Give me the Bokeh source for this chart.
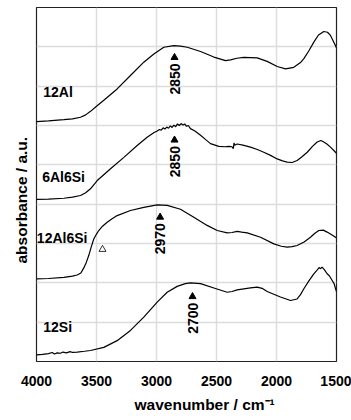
import math
from bokeh.plotting import figure
from bokeh.models import Range1d, FixedTicker, Title
from bokeh.core.properties import value
from bokeh.embed import file_html
from bokeh.resources import INLINE

# ---------------- data ----------------
wn_12al = [4000, 3900, 3772, 3700, 3633, 3590, 3550, 3500, 3439, 3328, 3217, 3106, 3022, 2939, 2856,
           2800, 2744, 2633, 2522, 2425, 2383, 2330, 2272, 2161, 2078, 1994, 1925, 1856, 1800, 1772,
           1730, 1689, 1650, 1606, 1575, 1550, 1508, 1500]
ab_12al = [6.10, 6.12, 6.15, 6.17, 6.21, 6.27, 6.36, 6.49, 6.64, 6.93, 7.27, 7.61, 7.82, 7.99, 8.03,
           8.02, 7.99, 7.88, 7.74, 7.65, 7.67, 7.71, 7.73, 7.72, 7.63, 7.50, 7.44, 7.48, 7.60, 7.70,
           7.90, 8.12, 8.30, 8.39, 8.37, 8.29, 8.03, 7.97]

wn_6al6si = [4000, 3900, 3772, 3700, 3633, 3590, 3550, 3494, 3383, 3272, 3161, 3078, 3020, 2994, 2975,
             2960, 2945, 2930, 2915, 2900, 2885, 2870, 2855, 2840, 2825, 2810, 2795, 2780, 2765, 2750,
             2735, 2717, 2680, 2633, 2590,
             2550, 2481, 2430, 2397, 2370, 2360, 2354, 2348, 2328, 2280, 2217, 2160, 2106, 2050, 1994,
             1950, 1911, 1870, 1828, 1790, 1744, 1700, 1661, 1630, 1606, 1580, 1550, 1508, 1500]
ab_6al6si = [4.12, 4.13, 4.15, 4.18, 4.22, 4.29, 4.39, 4.60, 4.90, 5.19, 5.49, 5.70, 5.82, 5.86, 5.90,
             5.88, 5.94, 5.91, 5.96, 5.93, 5.99, 5.95, 6.01, 5.97, 6.04, 6.00, 6.05, 6.01, 6.04, 5.98,
             6.00, 5.92, 5.86, 5.75, 5.64,
             5.54, 5.47, 5.46, 5.47, 5.46, 5.41, 5.56, 5.50, 5.53, 5.50, 5.45, 5.39, 5.32, 5.24, 5.15,
             5.10, 5.07, 5.06, 5.11, 5.20, 5.32, 5.47, 5.58, 5.62, 5.58, 5.53, 5.45, 5.32, 5.29]

wn_12al6si = [4000, 3900, 3772, 3700, 3661, 3630, 3606, 3585, 3564, 3543, 3522, 3500, 3481, 3450, 3411,
              3370, 3328, 3217, 3106, 2994, 2911, 2800, 2689, 2578, 2494, 2411, 2370, 2328, 2290, 2244,
              2133, 2022, 1960, 1911, 1870, 1828, 1770, 1717, 1680, 1647, 1610, 1578, 1540, 1508, 1500]
ab_12al6si = [2.10, 2.11, 2.14, 2.17, 2.20, 2.25, 2.38, 2.52, 2.70, 2.92, 3.12, 3.24, 3.33, 3.44, 3.54,
              3.63, 3.71, 3.84, 3.92, 3.98, 3.97, 3.87, 3.67, 3.46, 3.33, 3.27, 3.28, 3.31, 3.29, 3.27,
              3.16, 2.99, 2.93, 2.91, 2.92, 2.95, 3.04, 3.16, 3.26, 3.33, 3.34, 3.29, 3.22, 3.16, 3.14]

wn_12si = [4000, 3950, 3900, 3870, 3850, 3828, 3800, 3780, 3750, 3720, 3700, 3661, 3600, 3550, 3439,
           3328, 3217, 3106, 2994, 2911, 2828, 2760, 2717, 2633, 2522, 2411, 2370, 2328, 2217, 2161,
           2120, 2078, 1967, 1883, 1828, 1800, 1772, 1730, 1689, 1660, 1645, 1633, 1620, 1600, 1578,
           1560, 1536, 1520, 1508, 1500]
ab_12si = [0.17, 0.18, 0.20, 0.23, 0.19, 0.22, 0.21, 0.24, 0.22, 0.25, 0.23, 0.24, 0.26, 0.28, 0.36,
           0.53, 0.79, 1.13, 1.51, 1.76, 1.91, 1.98, 2.00, 1.98, 1.87, 1.76, 1.78, 1.82, 1.87, 1.89,
           1.86, 1.78, 1.64, 1.55, 1.59, 1.70, 1.85, 2.05, 2.23, 2.33, 2.39, 2.36, 2.40, 2.33, 2.23,
           2.18, 2.06, 1.98, 1.85, 1.78]

series_names = ["12Al", "6Al6Si", "12Al6Si", "12Si"]
peak_wn = [2850, 2850, 2970, 2700]
peak_text = ["2850", "2850", "2970", "2700"]
open_mark_wn = [3450]

x_ticks = [4000, 3500, 3000, 2500, 2000, 1500]
y_grid = [1, 2, 3, 4, 5, 6, 7, 8]

# ---------------- layout / style ----------------
FONT = value("Liberation Sans")
label_pos = [(3944, 6.85), (3953, 4.69), (3997, 3.13), (3944, 0.87)]
peak_level = [7.73, 5.63, 3.67, 1.65]
open_mark_level = [2.85]

p = figure(frame_width=300, frame_height=354, min_border_left=36, min_border_right=15,
           min_border_top=7, min_border_bottom=59, output_backend="svg",
           toolbar_location=None, title=None, y_axis_location=None,
           x_range=Range1d(4000, 1500), y_range=Range1d(0, 9))

p.outline_line_color = "#222222"
p.outline_line_width = 1.2
p.background_fill_color = "white"
p.border_fill_color = "white"

p.xgrid.ticker = FixedTicker(ticks=x_ticks)
p.ygrid.ticker = FixedTicker(ticks=y_grid)
for g in (p.xgrid, p.ygrid):
    g.grid_line_color = "#dcdcdc"
    g.grid_line_width = 1.5

ax = p.xaxis[0]
ax.ticker = FixedTicker(ticks=x_ticks)
ax.axis_line_color = None
ax.major_tick_line_color = None
ax.minor_tick_line_color = None
ax.major_label_standoff = 8
ax.major_label_text_font = "Liberation Sans"
ax.major_label_text_font_style = "bold"
ax.major_label_text_font_size = "14px"
ax.major_label_text_color = "black"

curves = [(wn_12al, ab_12al), (wn_6al6si, ab_6al6si), (wn_12al6si, ab_12al6si), (wn_12si, ab_12si)]
for xs, ys in curves:
    p.line(xs, ys, line_color="black", line_width=1.2)

# curve labels
p.text(x=[q[0] for q in label_pos], y=[q[1] for q in label_pos], text=series_names,
       text_font=FONT, text_font_style="bold", text_font_size="14px",
       text_align="left", text_baseline="middle", text_color="black")

# peak markers and rotated wavenumber labels
p.scatter(peak_wn, peak_level, marker="triangle", size=7, color="black")
p.text(x=peak_wn, y=peak_level, text=peak_text, angle=math.pi / 2, y_offset=6,
       text_font=FONT, text_font_style="bold", text_font_size="14px",
       text_align="right", text_baseline="middle", text_color="black")

# open triangle marker
p.scatter(open_mark_wn, open_mark_level, marker="triangle", size=7,
          fill_color=None, line_color="black", line_width=0.8)

# axis titles
p.add_layout(Title(text="wavenumber / cm\u207b\u00b9", align="left", offset=98, standoff=11,
                   text_font="Liberation Sans", text_font_style="bold",
                   text_font_size="15.5px", text_color="black"), "below")
p.add_layout(Title(text="absorbance / a.u.", align="left", offset=98, standoff=13,
                   text_font="Liberation Sans", text_font_style="bold",
                   text_font_size="15.5px", text_color="black"), "left")

open("out.html", "w").write(file_html(p, INLINE))
